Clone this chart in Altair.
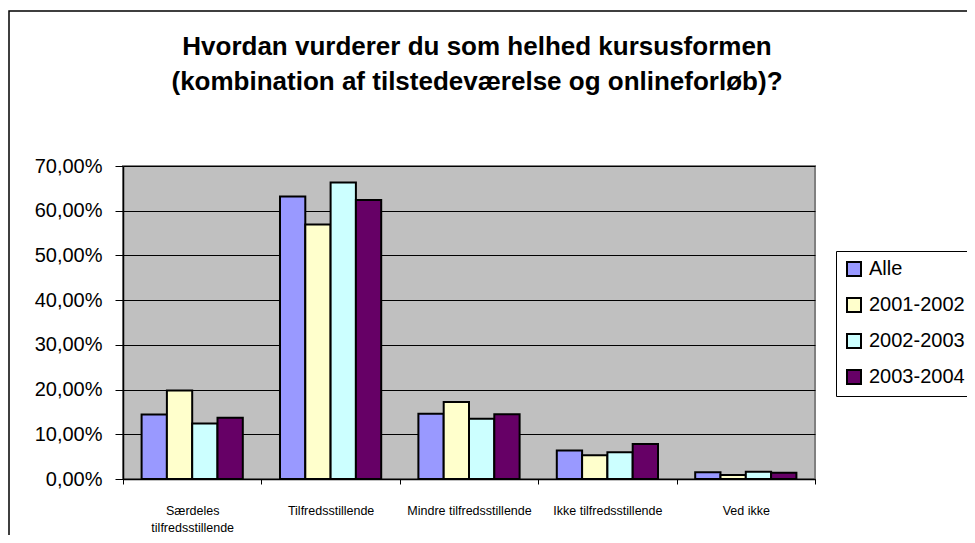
import altair as alt
import pandas as pd

categories = ["Særdeles\ntilfredsstillende", "Tilfredsstillende", "Mindre tilfredsstillende",
              "Ikke tilfredsstillende", "Ved ikke"]
series = ["Alle", "2001-2002", "2002-2003", "2003-2004"]
values_alle = [0.144, 0.632, 0.146, 0.064, 0.015]
values_2001 = [0.198, 0.569, 0.172, 0.053, 0.009]
values_2002 = [0.124, 0.663, 0.135, 0.060, 0.016]
values_2003 = [0.137, 0.624, 0.145, 0.078, 0.014]
colors = ["#9999FF", "#FFFFCC", "#CCFFFF", "#660066"]
y_ticks = [0, 0.1, 0.2, 0.3, 0.4, 0.5, 0.6, 0.7]

rows = []
for s, vals in zip(series, [values_alle, values_2001, values_2002, values_2003]):
    for c, v in zip(categories, vals):
        rows.append({"Kategori": c, "Serie": s, "Andel": v})
df = pd.DataFrame(rows)

FONT = "Liberation Sans"

bars = alt.Chart(df).mark_bar(stroke="black", strokeWidth=2).encode(
    x=alt.X("Kategori:N", sort=categories, title=None,
            scale=alt.Scale(paddingInner=0, paddingOuter=0),
            axis=alt.Axis(tickBand="extent", tickSize=5, tickColor="black",
                          domainColor="black", domainWidth=1.5, labelAngle=0,
                          labelFont=FONT, labelFontSize=12.5, labelColor="black",
                          labelPadding=20, labelLineHeight=17,
                          labelExpr="split(datum.label, '\\n')", grid=False)),
    xOffset=alt.XOffset("Serie:N", sort=series,
                        scale=alt.Scale(paddingOuter=0.735, paddingInner=0)),
    y=alt.Y("Andel:Q", title=None,
            scale=alt.Scale(domain=[0, 0.7], nice=False),
            axis=alt.Axis(values=y_ticks, tickSize=8, tickColor="black",
                          domainColor="black", domainWidth=1.5,
                          gridColor="black", gridWidth=1,
                          labelFont=FONT, labelFontSize=20, labelColor="black",
                          labelPadding=13,
                          labelExpr="replace(format(datum.value, '.2%'), '.', ',')")),
    color=alt.Color("Serie:N", sort=series,
                    scale=alt.Scale(domain=series, range=colors),
                    legend=alt.Legend(title=None, orient="none", legendX=713, legendY=85,
                                      strokeColor="black", fillColor="white", padding=8,
                                      symbolType="square", symbolSize=196,
                                      symbolStrokeColor="black", symbolStrokeWidth=2,
                                      labelFont=FONT, labelFontSize=20, labelColor="black",
                                      rowPadding=14, labelOffset=5)),
)

frame = alt.Chart(pd.DataFrame({"f": [0]})).mark_rect(
    filled=False, stroke="black", strokeWidth=1.5, fillOpacity=0
).encode(x=alt.value(-114), x2=alt.value(1000), y=alt.value(-155), y2=alt.value(700))

chart = alt.layer(frame, bars).properties(
    width=692, height=313,
    background="white",
    autosize=alt.AutoSizeParams(type="none"),
    padding={"left": 115, "top": 158, "right": 152, "bottom": 56},
    title=alt.TitleParams(
        text=["Hvordan vurderer du som helhed kursusformen",
              "(kombination af tilstedeværelse og onlineforløb)?"],
        font=FONT, fontSize=26, fontWeight="bold", color="black",
        anchor="middle", frame="group", offset=0, dy=85, lineHeight=35, dx=8),
).configure_view(fill="#C0C0C0", stroke="#808080", strokeWidth=2)

chart.save("out.html", embed_options={"renderer": "svg", "actions": False})
